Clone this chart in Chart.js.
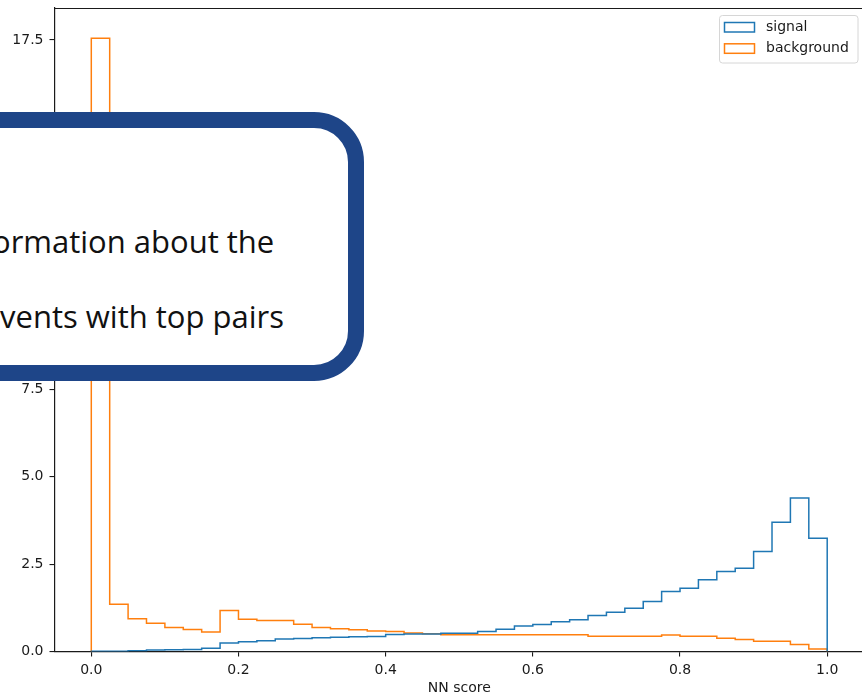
<!DOCTYPE html>
<html>
<head>
<meta charset="utf-8">
<script src="https://cdn.jsdelivr.net/npm/chart.js@4/dist/chart.umd.min.js"></script>
<style>
  html, body { margin: 0; padding: 0; background: #fff; overflow: hidden; }
  #wrap { position: relative; width: 866px; height: 694px; }
  #note {
    position: absolute; left: -60px; top: 112px; width: 424px; height: 269px;
    box-sizing: border-box; border: 16px solid #1e4588; border-radius: 50px;
    background: #fff; overflow: hidden;
    font-family: "Open Sans", "Noto Sans", sans-serif; font-size: 31px; color: #111;
  }
  #note span { position: absolute; white-space: nowrap; line-height: normal; }
</style>
</head>
<body>
<div id="wrap">
  <canvas id="c" width="866" height="694"></canvas>
  <div id="note">
    <span style="left:36px; top:92px;">ormation about the</span>
    <span style="left:44px; top:167px;">vents with top pairs</span>
  </div>
</div>
<script>
// Histogram bin edges (NN score), 40 bins on [0, 1]
const binEdges = [
  0.000, 0.025, 0.050, 0.075, 0.100, 0.125, 0.150, 0.175, 0.200, 0.225,
  0.250, 0.275, 0.300, 0.325, 0.350, 0.375, 0.400, 0.425, 0.450, 0.475,
  0.500, 0.525, 0.550, 0.575, 0.600, 0.625, 0.650, 0.675, 0.700, 0.725,
  0.750, 0.775, 0.800, 0.825, 0.850, 0.875, 0.900, 0.925, 0.950, 0.975, 1.000
];

// Normalised bin contents per class
const signal = [
  0.01, 0.01, 0.02, 0.04, 0.05, 0.06, 0.09, 0.24, 0.28, 0.31,
  0.36, 0.37, 0.39, 0.41, 0.42, 0.43, 0.49, 0.50, 0.50, 0.52,
  0.52, 0.57, 0.64, 0.73, 0.77, 0.85, 0.91, 1.03, 1.12, 1.24,
  1.43, 1.72, 1.81, 2.05, 2.29, 2.38, 2.86, 3.70, 4.39, 3.24
];
const background = [
  17.55, 1.35, 0.94, 0.81, 0.69, 0.63, 0.56, 1.17, 0.92, 0.89,
  0.89, 0.78, 0.69, 0.65, 0.62, 0.59, 0.57, 0.53, 0.51, 0.48,
  0.48, 0.48, 0.48, 0.48, 0.48, 0.48, 0.48, 0.44, 0.44, 0.44,
  0.44, 0.47, 0.44, 0.44, 0.38, 0.34, 0.29, 0.29, 0.20, 0.07
];

const seriesLabels = ['signal', 'background'];
const xTickValues = [0.0, 0.2, 0.4, 0.6, 0.8, 1.0];
const yTickValues = [0.0, 2.5, 5.0, 7.5, 10.0, 12.5, 15.0, 17.5];
const xTitle = 'NN score';

// Outline of a step histogram: up at the first edge, flat across each bin, down at the last edge
function stepOutline(edges, counts) {
  const pts = [{ x: edges[0], y: 0 }];
  counts.forEach((v, i) => {
    pts.push({ x: edges[i], y: v });
    pts.push({ x: edges[i + 1], y: v });
  });
  pts.push({ x: edges[edges.length - 1], y: 0 });
  return pts;
}

const FONT = '"DejaVu Sans", Verdana, sans-serif';
const INK = '#1a1a1a';

// Top spine and the legend drawn inside the axes
const framePlugin = {
  id: 'frameAndLegend',
  afterDraw(chart) {
    const { ctx, chartArea: a } = chart;
    ctx.save();
    ctx.strokeStyle = INK;
    ctx.lineWidth = 1.2;
    ctx.beginPath();
    ctx.moveTo(a.left, Math.round(a.top) + 0.5);
    ctx.lineTo(a.right, Math.round(a.top) + 0.5);
    ctx.stroke();

    // legend box
    const w = 138.5, h = 47.5;
    const bx = Math.round(a.right - 7 - w) + 0.5;
    const by = Math.round(a.top + 7) + 0.5;
    ctx.fillStyle = 'rgba(255,255,255,0.8)';
    ctx.strokeStyle = '#d6d6d6';
    ctx.lineWidth = 1;
    ctx.beginPath();
    ctx.roundRect(bx, by, w, h, 3);
    ctx.fill();
    ctx.stroke();

    ctx.font = '14px ' + FONT;
    ctx.textBaseline = 'middle';
    ctx.textAlign = 'left';
    chart.data.datasets.forEach((ds, i) => {
      const py = by + 7 + i * 21.3;
      ctx.strokeStyle = ds.borderColor;
      ctx.lineWidth = 1.5;
      ctx.strokeRect(bx + 5, py, 30, 9.5);
      ctx.fillStyle = INK;
      ctx.fillText(ds.label, bx + 46.5, py + 4.5);
    });
    ctx.restore();
  }
};

new Chart(document.getElementById('c'), {
  type: 'line',
  data: {
    datasets: [
      {
        label: seriesLabels[0],
        data: stepOutline(binEdges, signal),
        borderColor: '#1f77b4',
      },
      {
        label: seriesLabels[1],
        data: stepOutline(binEdges, background),
        borderColor: '#ff7f0e',
      }
    ]
  },
  options: {
    responsive: false,
    animation: false,
    events: [],
    datasets: {
      line: {
        borderWidth: 1.5,
        pointRadius: 0,
        tension: 0,
        fill: false,
        borderJoinStyle: 'miter',
        spanGaps: true
      }
    },
    layout: { padding: { left: 0, right: 2, top: 7.5, bottom: 0 } },
    plugins: { legend: { display: false }, tooltip: { enabled: false } },
    scales: {
      x: {
        type: 'linear',
        min: -0.05,
        max: 1.05,
        afterBuildTicks: s => { s.ticks = xTickValues.map(v => ({ value: v })); },
        afterFit: s => { s.height = 42.5; s.paddingLeft = 0; s.paddingRight = 0; },
        grid: { drawOnChartArea: false, drawTicks: true, tickLength: 5, color: INK, lineWidth: 1.1 },
        border: { display: true, color: INK, width: 1.2 },
        ticks: {
          padding: 5,
          color: INK,
          font: { family: FONT, size: 14 },
          maxRotation: 0,
          autoSkip: false,
          callback: v => Number(v).toFixed(1)
        },
        title: {
          display: true,
          text: xTitle,
          color: INK,
          font: { family: FONT, size: 14 },
          padding: { top: 0, bottom: -3 }
        }
      },
      y: {
        type: 'linear',
        min: 0,
        max: 18.43,
        afterBuildTicks: s => { s.ticks = yTickValues.map(v => ({ value: v })); },
        afterFit: s => { s.width = 54.5; s.paddingTop = 0; s.paddingBottom = 0; },
        grid: { drawOnChartArea: false, drawTicks: true, tickLength: 5, color: INK, lineWidth: 1.1 },
        border: { display: true, color: INK, width: 1.2 },
        ticks: {
          padding: 6,
          color: INK,
          font: { family: FONT, size: 14 },
          autoSkip: false,
          callback: v => Number(v).toFixed(1)
        }
      }
    }
  },
  plugins: [framePlugin]
});
</script>
</body>
</html>
